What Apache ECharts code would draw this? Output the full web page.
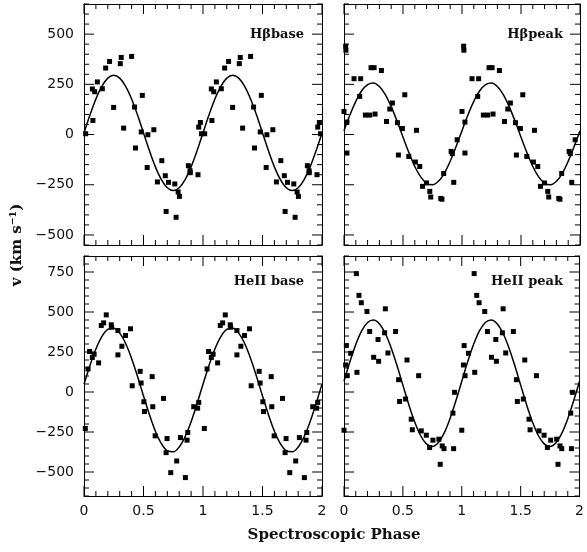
<!DOCTYPE html>
<html>
<head>
<meta charset="utf-8">
<script src="https://cdn.jsdelivr.net/npm/echarts@6/dist/echarts.min.js"></script>
<style>
  html, body { margin: 0; padding: 0; background: #fff; }
  #chart { width: 587px; height: 552px; }
</style>
</head>
<body>
<div id="chart"></div>
<script>
// measured points, one cycle of phase (plot repeats it at phase + 1)
const hbBasePhase = [0.014, 0.07, 0.09, 0.112, 0.075, 0.154, 0.182, 0.215, 0.249, 0.305, 0.313, 0.333, 0.40, 0.425, 0.433, 0.481, 0.49, 0.531, 0.537, 0.587, 0.617, 0.654, 0.683, 0.69, 0.71, 0.763, 0.774, 0.791, 0.802, 0.877, 0.891, 0.893, 0.958, 0.964, 0.978, 0.987];
const hbBaseVel = [4, 227, 213, 262, 70, 228, 331, 364, 135, 353, 384, 32, 389, 137, -67, 13, 195, -164, -1, 24, -236, -130, -205, -383, -238, -246, -412, -286, -308, -155, -180, -190, -200, 37, 60, 4];

const hbPeakPhase = [0.0, 0.014, 0.016, 0.025, 0.025, 0.085, 0.141, 0.133, 0.181, 0.218, 0.263, 0.229, 0.255, 0.317, 0.36, 0.388, 0.41, 0.453, 0.461, 0.495, 0.515, 0.549, 0.605, 0.614, 0.642, 0.665, 0.699, 0.727, 0.735, 0.82, 0.83, 0.845, 0.908, 0.918, 0.93, 0.959];
const hbPeakVel = [115, 440, 420, 62, -92, 278, 278, 190, 97, 97, 102, 333, 333, 319, 65, 127, 157, 59, -102, 30, 198, -109, -137, 21, -159, -258, -241, -283, -311, -318, -322, -194, -84, -95, -238, -26];

const heBasePhase = [0.011, 0.034, 0.047, 0.07, 0.085, 0.123, 0.145, 0.165, 0.187, 0.229, 0.232, 0.285, 0.285, 0.318, 0.349, 0.391, 0.405, 0.472, 0.48, 0.503, 0.508, 0.573, 0.578, 0.598, 0.668, 0.69, 0.698, 0.729, 0.779, 0.81, 0.852, 0.866, 0.872, 0.922, 0.955, 0.964];
const heBaseVel = [-228, 144, 253, 216, 236, 182, 416, 432, 482, 420, 405, 384, 232, 286, 353, 395, 39, 129, 56, -61, -122, 96, -92, -274, -40, -379, -291, -504, -431, -285, -535, -301, -253, -92, -101, -65];

const hePeakPhase = [0.0, 0.014, 0.02, 0.028, 0.057, 0.105, 0.11, 0.127, 0.147, 0.195, 0.218, 0.252, 0.289, 0.294, 0.345, 0.351, 0.373, 0.438, 0.464, 0.472, 0.523, 0.535, 0.571, 0.58, 0.634, 0.656, 0.699, 0.727, 0.755, 0.806, 0.817, 0.834, 0.849, 0.925, 0.931, 0.939];
const hePeakVel = [-239, 169, 290, 102, 242, 740, 123, 604, 558, 503, 378, 217, 328, 192, 370, 520, 244, 378, 77, -59, -44, 200, -170, -236, 102, -243, -270, -347, -301, -295, -452, -337, -354, -132, -354, -2];

// fitted curves, every 0.05 in phase
const curvePhase = [0, 0.05, 0.1, 0.15, 0.2, 0.25, 0.3, 0.35, 0.4, 0.45, 0.5, 0.55, 0.6, 0.65, 0.7, 0.75, 0.8, 0.85, 0.9, 0.95, 1.0];
const hbBaseFit = [8, 97, 177, 240, 281, 295, 281, 240, 177, 97, 8, -81, -161, -224, -265, -279, -265, -224, -161, -81, 8];
const hbPeakFit = [19, 97, 165, 218, 249, 257, 239, 199, 139, 66, -13, -90, -159, -211, -243, -250, -233, -193, -133, -60, 19];
const heBaseFit = [49, 166, 269, 346, 391, 398, 368, 303, 210, 97, -25, -142, -245, -322, -367, -374, -344, -279, -186, -73, 49];
const hePeakFit = [67, 189, 297, 382, 434, 450, 427, 367, 277, 165, 43, -79, -187, -272, -324, -340, -317, -257, -167, -55, 67];

// tick values
const topMajor = [-500, -250, 0, 250, 500];
const bottomMajor = [-500, -250, 0, 250, 500, 750];
const phaseMajor = [0, 0.5, 1, 1.5, 2];

const panelNames = ["Hβbase", "Hβpeak", "HeII base", "HeII peak"];

const chart = echarts.init(document.getElementById("chart"));

const grids = [
  { left: 84, top: 4, width: 238, height: 241 },
  { left: 344, top: 4, width: 236, height: 241 },
  { left: 84, top: 256, width: 238, height: 240 },
  { left: 344, top: 256, width: 236, height: 240 },
];
const yRange = [
  [-550, 650], [-550, 650], [-650, 850], [-650, 850],
];
const majors = [topMajor, topMajor, bottomMajor, bottomMajor];

const tickFont = { color: "#111", fontFamily: "DejaVu Sans", fontSize: 14 };
const minus = (v) => String(v).replace("-", "\u2212");
const black = { color: "#000", width: 1 };

const xAxes = [];
const yAxes = [];
grids.forEach(function (g, i) {
  ["bottom", "top"].forEach(function (pos) {
    xAxes.push({
      gridIndex: i, type: "value", position: pos, min: 0, max: 2, interval: 0.5,
      axisLine: { show: true, onZero: false, lineStyle: black },
      axisTick: { show: false },
      splitLine: { show: false },
      axisLabel: pos === "bottom" && i >= 2
        ? Object.assign({ margin: 8, formatter: (v) => String(v) }, tickFont)
        : { show: false },
    });
  });
  ["left", "right"].forEach(function (pos) {
    yAxes.push({
      gridIndex: i, type: "value", position: pos, min: yRange[i][0], max: yRange[i][1], interval: 50,
      axisLine: { show: true, onZero: false, lineStyle: black },
      axisTick: { show: false },
      splitLine: { show: false },
      axisLabel: pos === "left" && i % 2 === 0
        ? Object.assign({ margin: 10, customValues: majors[i], formatter: minus }, tickFont)
        : { show: false },
    });
  });
});

// inward tick marks on all four sides, placed through the axes' own scales
function tickItems(i) {
  const items = [];
  for (let v = yRange[i][0]; v <= yRange[i][1]; v += 50) {
    items.push([0, v, majors[i].indexOf(v) >= 0 ? 10 : 5]);
  }
  for (let k = 0; k <= 20; k++) {
    const p = Math.round(k * 10) / 100;
    items.push([1, p, phaseMajor.indexOf(p) >= 0 ? 10 : 5]);
  }
  return items;
}
function renderTick(params, api) {
  const cs = params.coordSys;
  const kind = api.value(0);
  const v = api.value(1);
  const len = api.value(2);
  const st = { stroke: "#000", lineWidth: 1 };
  if (kind === 0) {
    const y = api.coord([0, v])[1];
    return { type: "group", children: [
      { type: "line", shape: { x1: cs.x, y1: y, x2: cs.x + len, y2: y }, style: st },
      { type: "line", shape: { x1: cs.x + cs.width, y1: y, x2: cs.x + cs.width - len, y2: y }, style: st },
    ] };
  }
  const x = api.coord([v, 0])[0];
  return { type: "group", children: [
    { type: "line", shape: { x1: x, y1: cs.y, x2: x, y2: cs.y + len }, style: st },
    { type: "line", shape: { x1: x, y1: cs.y + cs.height, x2: x, y2: cs.y + cs.height - len }, style: st },
  ] };
}

const pointSets = [
  [hbBasePhase, hbBaseVel], [hbPeakPhase, hbPeakVel],
  [heBasePhase, heBaseVel], [hePeakPhase, hePeakVel],
];
const fits = [hbBaseFit, hbPeakFit, heBaseFit, hePeakFit];

const series = [];
pointSets.forEach(function (set, i) {
  const pts = [];
  set[0].forEach(function (p, k) {
    pts.push([p, set[1][k]]);
    pts.push([p + 1, set[1][k]]);
  });
  const line = [];
  curvePhase.forEach(function (p, k) { line.push([p, fits[i][k]]); });
  curvePhase.slice(1).forEach(function (p, k) { line.push([p + 1, fits[i][k + 1]]); });
  series.push({
    type: "line", xAxisIndex: i * 2, yAxisIndex: i * 2, data: line,
    smooth: 0.35, showSymbol: false, silent: true,
    lineStyle: { color: "#000", width: 1.5 },
  });
  series.push({
    type: "scatter", xAxisIndex: i * 2, yAxisIndex: i * 2, data: pts,
    symbol: "rect", symbolSize: 5, itemStyle: { color: "#000", opacity: 1 },
  });
  series.push({
    type: "custom", xAxisIndex: i * 2, yAxisIndex: i * 2, data: tickItems(i),
    encode: { x: -1, y: -1 }, renderItem: renderTick, silent: true, z: 5,
  });
});

const labelPos = [[304, 35], [563, 35], [304, 282], [563, 282]];
const graphic = panelNames.map(function (name, i) {
  return {
    type: "text", x: labelPos[i][0], y: labelPos[i][1],
    style: {
      text: name, align: "right", verticalAlign: "middle",
      font: "bold 13px 'DejaVu Serif'", fill: "#111",
    },
  };
});
graphic.push({
  type: "text", x: 334, y: 535,
  style: { text: "Spectroscopic Phase", align: "center", verticalAlign: "middle", font: "bold 15px 'DejaVu Serif'", fill: "#111" },
});
graphic.push({
  type: "text", x: 17, y: 245, rotation: Math.PI / 2,
  style: { text: "v (km s⁻¹)", align: "center", verticalAlign: "middle", font: "bold 15px 'DejaVu Serif'", fill: "#111" },
});

chart.setOption({
  animation: false,
  grid: grids,
  xAxis: xAxes,
  yAxis: yAxes,
  series: series,
  graphic: graphic,
});
</script>
</body>
</html>
